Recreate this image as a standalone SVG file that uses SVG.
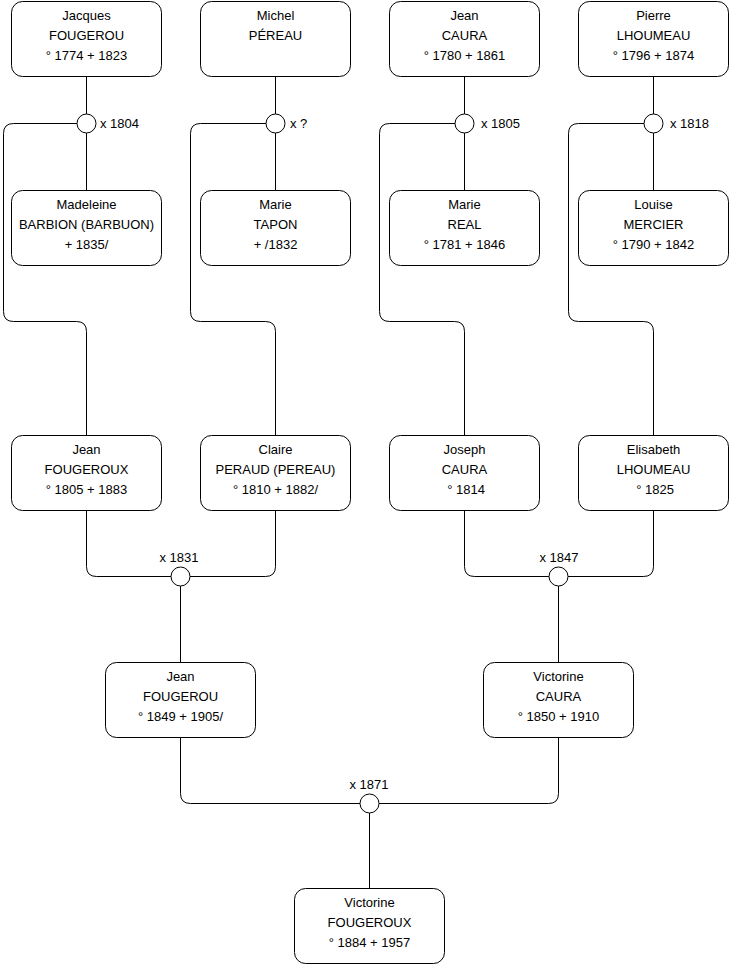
<svg xmlns="http://www.w3.org/2000/svg" width="740" height="975" viewBox="0 0 740 975">
<style>
.box{fill:#fff;stroke:#000;stroke-width:1}
.m{fill:#fff;stroke:#000;stroke-width:1}
.c{fill:none;stroke:#000;stroke-width:1}
text{font-family:"Liberation Sans",Arial,Helvetica,sans-serif;font-size:13px;fill:#000}
.t{text-anchor:middle}
.mc{text-anchor:middle}
</style>
<rect width="740" height="975" fill="#fff"/>
<g id="connectors">
<path class="c" d="M86.5 76.5V114M86.5 133V190.5M77 123.5H13.5Q3.5 123.5 3.5 133.5V311.5Q3.5 321.5 13.5 321.5H76.5Q86.5 321.5 86.5 331.5V435.5"/>
<path class="c" d="M275.5 76.5V114M275.5 133V190.5M266 123.5H200.5Q190.5 123.5 190.5 133.5V311.5Q190.5 321.5 200.5 321.5H265.5Q275.5 321.5 275.5 331.5V435.5"/>
<path class="c" d="M464.5 76.5V114M464.5 133V190.5M455 123.5H389.5Q379.5 123.5 379.5 133.5V311.5Q379.5 321.5 389.5 321.5H454.5Q464.5 321.5 464.5 331.5V435.5"/>
<path class="c" d="M653.5 76.5V114M653.5 133V190.5M644 123.5H578.5Q568.5 123.5 568.5 133.5V311.5Q568.5 321.5 578.5 321.5H643.5Q653.5 321.5 653.5 331.5V435.5"/>
<path class="c" d="M86.5 510.5V566.5Q86.5 576.5 96.5 576.5H171M275.5 510.5V566.5Q275.5 576.5 265.5 576.5H190M180.5 586V662.5"/>
<path class="c" d="M464.5 510.5V566.5Q464.5 576.5 474.5 576.5H549M653.5 510.5V566.5Q653.5 576.5 643.5 576.5H568M558.5 586V662.5"/>
<path class="c" d="M180.5 737.5V793.5Q180.5 803.5 190.5 803.5H360M558.5 737.5V793.5Q558.5 803.5 548.5 803.5H379M369.5 813V888.5"/>
</g>
<g id="m1804"><circle class="m" cx="86.5" cy="123.5" r="9.5"/><text x="100" y="128">x 1804</text></g>
<g id="m_unknown"><circle class="m" cx="275.5" cy="123.5" r="9.5"/><text x="290" y="128">x ?</text></g>
<g id="m1805"><circle class="m" cx="464.5" cy="123.5" r="9.5"/><text x="481" y="128">x 1805</text></g>
<g id="m1818"><circle class="m" cx="653.5" cy="123.5" r="9.5"/><text x="670" y="128">x 1818</text></g>
<g id="m1831"><circle class="m" cx="180.5" cy="576.5" r="9.5"/><text class="mc" x="179" y="562">x 1831</text></g>
<g id="m1847"><circle class="m" cx="558.5" cy="576.5" r="9.5"/><text class="mc" x="559" y="562">x 1847</text></g>
<g id="m1871"><circle class="m" cx="369.5" cy="803.5" r="9.5"/><text class="mc" x="369" y="789">x 1871</text></g>

<g id="jacques"><rect class="box" x="11.5" y="1.5" width="150" height="75" rx="11"/><text class="t" x="86.5" y="20">Jacques</text><text class="t" x="86.5" y="40">FOUGEROU</text><text class="t" x="86.5" y="60">° 1774 + 1823</text></g>
<g id="michel"><rect class="box" x="200.5" y="1.5" width="150" height="75" rx="11"/><text class="t" x="275.5" y="20">Michel</text><text class="t" x="275.5" y="40">PÉREAU</text></g>
<g id="jean_caura"><rect class="box" x="389.5" y="1.5" width="150" height="75" rx="11"/><text class="t" x="464.5" y="20">Jean</text><text class="t" x="464.5" y="40">CAURA</text><text class="t" x="464.5" y="60">° 1780 + 1861</text></g>
<g id="pierre"><rect class="box" x="578.5" y="1.5" width="150" height="75" rx="11"/><text class="t" x="653.5" y="20">Pierre</text><text class="t" x="653.5" y="40">LHOUMEAU</text><text class="t" x="653.5" y="60">° 1796 + 1874</text></g>

<g id="madeleine"><rect class="box" x="11.5" y="190.5" width="150" height="75" rx="11"/><text class="t" x="86.5" y="209">Madeleine</text><text class="t" x="86.5" y="229">BARBION (BARBUON)</text><text class="t" x="86.5" y="249">+ 1835/</text></g>
<g id="marie_tapon"><rect class="box" x="200.5" y="190.5" width="150" height="75" rx="11"/><text class="t" x="275.5" y="209">Marie</text><text class="t" x="275.5" y="229">TAPON</text><text class="t" x="275.5" y="249">+ /1832</text></g>
<g id="marie_real"><rect class="box" x="389.5" y="190.5" width="150" height="75" rx="11"/><text class="t" x="464.5" y="209">Marie</text><text class="t" x="464.5" y="229">REAL</text><text class="t" x="464.5" y="249">° 1781 + 1846</text></g>
<g id="louise"><rect class="box" x="578.5" y="190.5" width="150" height="75" rx="11"/><text class="t" x="653.5" y="209">Louise</text><text class="t" x="653.5" y="229">MERCIER</text><text class="t" x="653.5" y="249">° 1790 + 1842</text></g>

<g id="jean_fougeroux"><rect class="box" x="11.5" y="435.5" width="150" height="75" rx="11"/><text class="t" x="86.5" y="454">Jean</text><text class="t" x="86.5" y="474">FOUGEROUX</text><text class="t" x="86.5" y="494">° 1805 + 1883</text></g>
<g id="claire"><rect class="box" x="200.5" y="435.5" width="150" height="75" rx="11"/><text class="t" x="275.5" y="454">Claire</text><text class="t" x="275.5" y="474">PERAUD (PEREAU)</text><text class="t" x="275.5" y="494">° 1810 + 1882/</text></g>
<g id="joseph"><rect class="box" x="389.5" y="435.5" width="150" height="75" rx="11"/><text class="t" x="464.5" y="454">Joseph</text><text class="t" x="464.5" y="474">CAURA</text><text class="t" x="466" y="494">° 1814</text></g>
<g id="elisabeth"><rect class="box" x="578.5" y="435.5" width="150" height="75" rx="11"/><text class="t" x="653.5" y="454">Elisabeth</text><text class="t" x="653.5" y="474">LHOUMEAU</text><text class="t" x="655" y="494">° 1825</text></g>

<g id="jean_fougerou"><rect class="box" x="105.5" y="662.5" width="150" height="75" rx="11"/><text class="t" x="180.5" y="681">Jean</text><text class="t" x="180.5" y="701">FOUGEROU</text><text class="t" x="180.5" y="721">° 1849 + 1905/</text></g>
<g id="victorine_caura"><rect class="box" x="483.5" y="662.5" width="150" height="75" rx="11"/><text class="t" x="558.5" y="681">Victorine</text><text class="t" x="558.5" y="701">CAURA</text><text class="t" x="558.5" y="721">° 1850 + 1910</text></g>

<g id="victorine_fougeroux"><rect class="box" x="294.5" y="888.5" width="150" height="75" rx="11"/><text class="t" x="369.5" y="907">Victorine</text><text class="t" x="369.5" y="927">FOUGEROUX</text><text class="t" x="369.5" y="947">° 1884 + 1957</text></g>
</svg>
